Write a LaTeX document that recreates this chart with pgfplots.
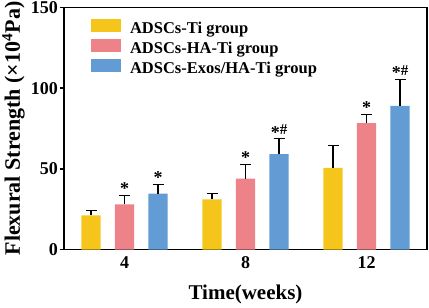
\documentclass[border=0pt]{standalone}
\usepackage{fontspec}
\setmainfont{Liberation Serif}
\usepackage{pgfplots}
\pgfplotsset{compat=1.18}
\definecolor{cYel}{HTML}{F5C51C}
\definecolor{cPink}{HTML}{EE8289}
\definecolor{cBlue}{HTML}{639BD5}
\newcommand{\sigA}{{\fontsize{18}{19}\selectfont *}}
\newcommand{\sigAH}{{\fontsize{18}{19}\selectfont\raisebox{-3.5pt}{*}}{\fontsize{15}{16}\selectfont \#}}
\begin{document}
\begin{tikzpicture}
\begin{axis}[
  scale only axis,
  width=363pt, height=242pt,
  ybar,
  bar width=19.3pt,
  xmin=0.5, xmax=3.5,
  ymin=0, ymax=150,
  xtick={1,2,3},
  xticklabels={4,8,12},
  ytick={0,50,100,150},
  ytick pos=left,
  xtick pos=bottom,
  tick align=outside,
  major tick length=4pt,
  x tick style={draw=none},
  y tick style={line width=1.4pt, black},
  axis line style={line width=1.6pt, black},
  /pgf/number format/assume math mode=true,
  ticklabel style={font=\bfseries\fontsize{18}{19}\selectfont},
  yticklabel style={inner sep=0pt, xshift=-2pt},
  xticklabel style={inner sep=0pt, yshift=-3pt},
  xlabel={Time(weeks)},
  ylabel={Flexural Strength (×10\textsuperscript{4}Pa)},
  xlabel style={font=\bfseries\fontsize{21}{22}\selectfont, at={(axis description cs:0.5,0)}, anchor=base, yshift=-49.5pt, inner sep=0pt},
  ylabel style={font=\bfseries\fontsize{22}{23}\selectfont, at={(axis description cs:0,0.5)}, anchor=base, yshift=44pt, inner sep=0pt},
  legend cell align=left,
  legend style={at={(rel axis cs:0.074,0.955)}, anchor=north west, draw=none, fill=none,
    font=\bfseries\fontsize{16.5}{17}\selectfont, inner sep=0pt, row sep=2pt, column sep=9pt,
    nodes={inner sep=0pt, text height=11pt, text depth=3pt}},
  legend image code/.code={\fill[#1] (0pt,-2pt) rectangle (30pt,11pt);},
  error bars/y dir=plus,
  error bars/y explicit,
  error bars/error bar style={line width=1.1pt, black},
  error bars/error mark options={rotate=90, mark size=5.5pt, line width=1.1pt, black},
]
\addplot[fill=cYel, draw=none, bar shift=-33.5pt] coordinates {
  (1,21.1) +- (0,3.1)
  (2,31.0) +- (0,3.9)
  (3,50.6) +- (0,13.7)
};
\addplot[fill=cPink, draw=none, bar shift=0pt] coordinates {
  (1,27.9) +- (0,5.6)
  (2,44.0) +- (0,8.5)
  (3,78.3) +- (0,5.2)
};
\addplot[fill=cBlue, draw=none, bar shift=33.5pt] coordinates {
  (1,34.7) +- (0,5.6)
  (2,59.1) +- (0,9.5)
  (3,89.0) +- (0,16.4)
};
\legend{ADSCs-Ti group, ADSCs-HA-Ti group, ADSCs-Exos/HA-Ti group}
\begin{scope}[every node/.style={font=\bfseries, anchor=base, inner sep=0pt}]
\node[yshift=1pt] at (axis cs:1,33.5) {\sigA};
\node[xshift=33.5pt, yshift=1pt] at (axis cs:1,40.3) {\sigA};
\node[yshift=1pt] at (axis cs:2,52.5) {\sigA};
\node[xshift=33.5pt, yshift=4pt] at (axis cs:2,68.6) {\sigAH};
\node[yshift=1pt] at (axis cs:3,83.5) {\sigA};
\node[xshift=33.5pt, yshift=4pt] at (axis cs:3,105.4) {\sigAH};
\end{scope}
\end{axis}
\pgfresetboundingbox
\path[use as bounding box] ([xshift=-64pt,yshift=-57.5pt]current axis.south west) rectangle ([xshift=2pt,yshift=7.5pt]current axis.north east);
\end{tikzpicture}
\end{document}
